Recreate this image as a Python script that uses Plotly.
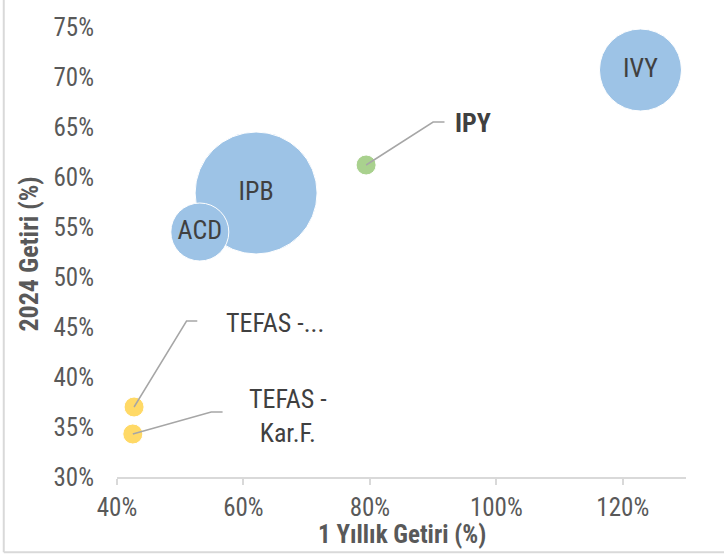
import plotly.graph_objects as go

# Bubble chart: 1-year return vs 2024 return, bubble size = fund size
funds = ["IVY", "IPB", "ACD", "IPY", "TEFAS -...", "TEFAS -<br>Kar.F."]
one_year_ret = [122.8, 62.0, 53.1, 79.4, 42.7, 42.5]     # x, %
ret_2024 = [70.7, 58.4, 54.5, 61.2, 37.0, 34.3]          # y, %
bubble_size = [45.2, 100, 22.6, 2.7, 2.7, 2.7]
colors = ["#9DC3E6", "#9DC3E6", "#9DC3E6", "#A9D18E", "#FFD966", "#FFD966"]
inside_label = [True, True, True, False, False, False]

# callout labels (for the small bubbles)
callout_idx = [3, 4, 5]
elbow_x = [90.0, 51.0, 54.9]
elbow_y = [65.5, 45.6, 36.5]
tail_x = [91.8, 52.7, 56.7]
label_x = [93.1, 56.9, 67.0]
label_y = [65.4, 45.4, 36.1]
label_anchor = ["left", "left", "center"]
label_bold = [True, False, False]

FONT = "Roboto Condensed, Liberation Sans, sans-serif"

fig = go.Figure()

fig.add_trace(go.Scatter(
    x=one_year_ret, y=ret_2024,
    mode="markers+text",
    text=[f if ins else "" for f, ins in zip(funds, inside_label)],
    textposition="middle center",
    textfont=dict(family=FONT, size=26, color="#404040"),
    marker=dict(size=bubble_size, sizemode="area", sizeref=2 * 100 / 122 ** 2,
                color=colors, opacity=1, line=dict(color="white", width=1)),
    hoverinfo="skip", showlegend=False,
))

# leader lines
lx, ly = [], []
for k, i in enumerate(callout_idx):
    lx += [one_year_ret[i], elbow_x[k], tail_x[k], None]
    ly += [ret_2024[i], elbow_y[k], elbow_y[k], None]
fig.add_trace(go.Scatter(x=lx, y=ly, mode="lines",
                         line=dict(color="#A6A6A6", width=1.5),
                         hoverinfo="skip", showlegend=False))

for k, i in enumerate(callout_idx):
    txt = funds[i]
    if label_bold[k]:
        txt = "<b>" + txt + "</b>"
    fig.add_annotation(x=label_x[k], y=label_y[k], text=txt, showarrow=False,
                       xanchor=label_anchor[k], yanchor="middle",
                       align="center",
                       font=dict(family=FONT, size=26, color="#404040"))

# axis titles
fig.add_annotation(x=0.5, y=-0.127, xref="paper", yref="paper",
                   text="<b>1 Yıllık Getiri (%)</b>", showarrow=False,
                   xanchor="center", yanchor="middle",
                   font=dict(family=FONT, size=25, color="#595959"))
fig.add_annotation(x=-0.155, y=0.496, xref="paper", yref="paper",
                   text="<b>2024 Getiri (%)</b>", showarrow=False, textangle=-90,
                   xanchor="center", yanchor="middle",
                   font=dict(family=FONT, size=26, color="#595959"))

# chart border (left and bottom visible in the crop)
fig.add_shape(type="line", xref="paper", yref="paper",
              x0=-0.199, x1=-0.199, y0=-0.167, y1=1.1,
              line=dict(color="#D9D9D9", width=2))
fig.add_shape(type="line", xref="paper", yref="paper",
              x0=-0.199, x1=1.1, y0=-0.167, y1=-0.167,
              line=dict(color="#D9D9D9", width=2))

fig.update_layout(
    width=724, height=557,
    margin=dict(l=117, r=38, t=27, b=80),
    paper_bgcolor="white", plot_bgcolor="white",
    font=dict(family=FONT, color="#595959"),
    xaxis=dict(range=[40, 130], tick0=40, dtick=20, ticksuffix="%",
               showgrid=False, zeroline=False, automargin=False,
               showline=True, linecolor="#D9D9D9", linewidth=1.5,
               ticks="outside", ticklen=6, tickcolor="#D9D9D9", tickwidth=1.5,
               ticklabelstandoff=1,
               tickfont=dict(size=25, color="#595959")),
    yaxis=dict(range=[30, 75], tick0=30, dtick=5, ticksuffix="%",
               showgrid=False, zeroline=False, showline=False, automargin=False,
               ticks="", ticklabelstandoff=22,
               tickfont=dict(size=25, color="#595959")),
)

fig.write_html("out.html", config={"displayModeBar": False},
               post_script="document.body.style.margin='0';")
